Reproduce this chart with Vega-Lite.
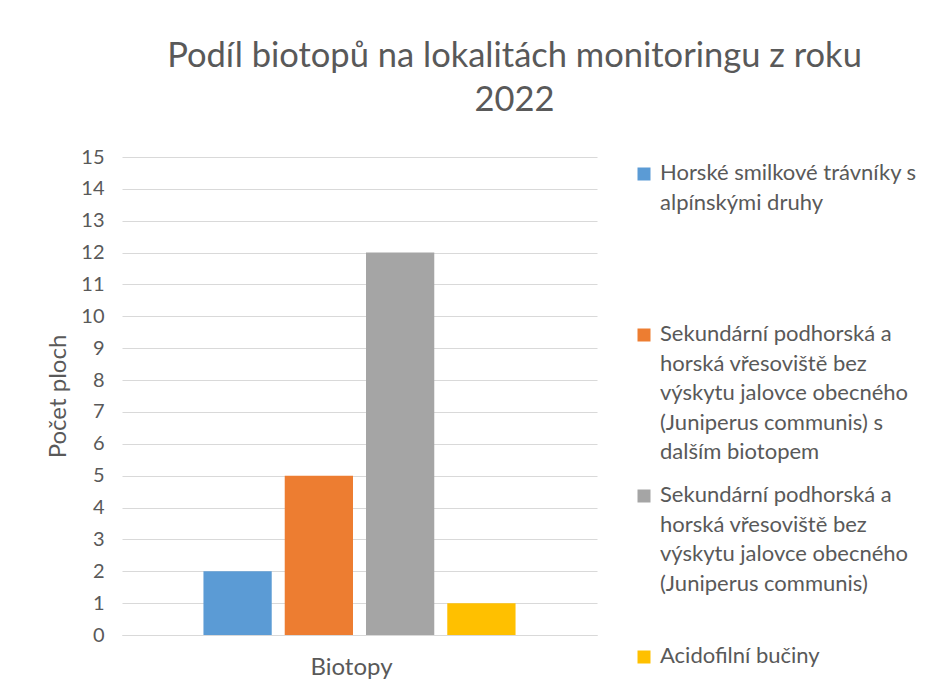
{
  "$schema": "https://vega.github.io/schema/vega-lite/v6.json",
  "width": 475,
  "height": 478,
  "autosize": "none",
  "padding": {"left": 122, "top": 157, "right": 328, "bottom": 62},
  "background": "white",
  "config": {
    "font": "Lato",
    "view": {"stroke": null}
  },
  "title": {
    "text": ["Podíl biotopů na lokalitách monitoringu z roku", "2022"],
    "fontSize": 34.5,
    "fontWeight": "normal",
    "color": "#595959",
    "lineHeight": 44,
    "anchor": "middle",
    "dx": 155,
    "offset": 29
  },
  "data": {
    "values": [
      {"kategorie": "Biotopy", "biotop": "Horské smilkové trávníky s alpínskými druhy", "pocet": 2},
      {"kategorie": "Biotopy", "biotop": "Sekundární podhorská a horská vřesoviště bez výskytu jalovce obecného (Juniperus communis) s dalším biotopem", "pocet": 5},
      {"kategorie": "Biotopy", "biotop": "Sekundární podhorská a horská vřesoviště bez výskytu jalovce obecného (Juniperus communis)", "pocet": 12},
      {"kategorie": "Biotopy", "biotop": "Acidofilní bučiny", "pocet": 1}
    ]
  },
  "mark": {"type": "bar"},
  "encoding": {
    "x": {
      "field": "kategorie",
      "type": "nominal",
      "scale": {"paddingInner": 0, "paddingOuter": 0.261},
      "axis": {
        "title": null,
        "labelAngle": 0,
        "labelFontSize": 24,
        "labelColor": "#595959",
        "labelPadding": 20,
        "labelOffset": -8,
        "ticks": false,
        "domainColor": "#d9d9d9",
        "domainWidth": 1
      }
    },
    "xOffset": {
      "field": "biotop",
      "type": "nominal",
      "sort": null,
      "scale": {"paddingInner": 0.16, "paddingOuter": 0}
    },
    "y": {
      "field": "pocet",
      "type": "quantitative",
      "scale": {"domain": [0, 15]},
      "axis": {
        "title": "Počet ploch",
        "titleFontSize": 24,
        "titleFontWeight": "normal",
        "titleColor": "#595959",
        "titlePadding": 10,
        "values": [0,1,2,3,4,5,6,7,8,9,10,11,12,13,14,15],
        "labelFontSize": 20,
        "labelColor": "#595959",
        "labelPadding": 18,
        "ticks": false,
        "domain": false,
        "gridColor": "#d9d9d9",
        "gridWidth": 1
      }
    },
    "color": {
      "field": "biotop",
      "type": "nominal",
      "sort": null,
      "scale": {"range": ["#5b9bd5", "#ed7d31", "#a5a5a5", "#ffc000"]},
      "legend": {
        "title": null,
        "orient": "none",
        "legendX": 511,
        "legendY": 6,
        "symbolType": "square",
        "symbolSize": 169,
        "symbolStrokeWidth": 0,
        "labelFontSize": 22,
        "labelColor": "#595959",
        "labelLimit": 400,
        "labelBaseline": "alphabetic",
        "labelOffset": 5,
        "rowPadding": 21,
        "encode": {
          "labels": {"update": {"lineHeight": {"value": 29.5}, "dy": {"value": 6}}}
        },
        "labelExpr": "datum.label == 'Horské smilkové trávníky s alpínskými druhy' ? ['Horské smilkové trávníky s', 'alpínskými druhy', ' ', ' ', ' '] : datum.label == 'Acidofilní bučiny' ? ['Acidofilní bučiny', ' ', ' ', ' ', ' '] : indexof(datum.label, 'dalším') >= 0 ? ['Sekundární podhorská a', 'horská vřesoviště bez', 'výskytu jalovce obecného', '(Juniperus communis) s', 'dalším biotopem'] : ['Sekundární podhorská a', 'horská vřesoviště bez', 'výskytu jalovce obecného', '(Juniperus communis)', ' ']"
      }
    }
  }
}
